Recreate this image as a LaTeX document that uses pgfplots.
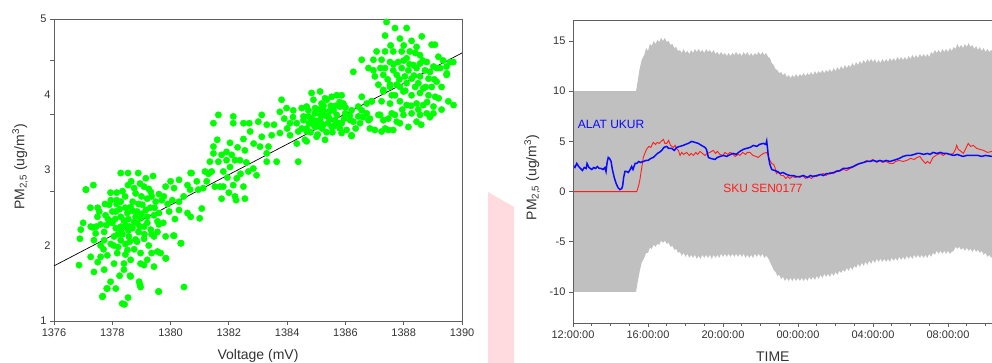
\documentclass[border=0pt]{standalone}
\usepackage{fontspec}
\setmainfont{Liberation Sans}
\usepackage{pgfplots}
\pgfplotsset{compat=1.18}
\definecolor{bandgray}{RGB}{192,192,192}
\definecolor{mygreen}{RGB}{0,255,0}
\definecolor{wmpink}{RGB}{255,218,222}
\definecolor{axgray}{RGB}{95,95,95}
\definecolor{ptblue}{RGB}{10,10,255}
\definecolor{ptred}{RGB}{255,30,30}
\pgfplotsset{
  common/.style={
    scale only axis,
    tick align=outside,
    xtick pos=left, ytick pos=left,
    axis line style={draw=axgray, line width=0.9pt},
    tick style={draw=axgray, line width=0.8pt},
    major tick length=4pt, minor tick length=3pt,
    tick label style={font=\fontsize{11}{13}\selectfont, text=black!80},
    label style={font=\fontsize{14}{16}\selectfont, text=black!80},
  }
}
\begin{document}
\begin{tikzpicture}[x=1pt,y=1pt]
\path[use as bounding box] (0,0) rectangle (992,363);
\clip (0,0) rectangle (992,363);
\fill[wmpink] (488,171) -- (514,156) -- (514,0) -- (488,0) -- cycle;

% ---------------- left panel ----------------
\begin{axis}[common,
  at={(54pt,42pt)}, anchor=south west, width=408pt, height=302pt,
  xmin=1376, xmax=1390, ymin=1, ymax=5,
  xtick={1376,1378,...,1390},
  xticklabels={1376,1378,1380,1382,1384,1386,1388,1390},
  ytick={1,2.723,3.730,4.445,5}, yticklabels={1,,,,5},
  extra y ticks={2,3,4}, extra y tick labels={2,3,4},
  extra y tick style={major tick length=0pt},
  xlabel={Voltage (mV)},
  ylabel={PM\textsubscript{2,5} (ug/m\textsuperscript{3})},
  xlabel style={at={(axis description cs:0.5,-0.116)}, anchor=center},
  ylabel style={at={(axis description cs:-0.083,0.51)}, anchor=center},
]
\addplot[only marks, mark=*, mark size=3.2pt, color=mygreen, mark options={draw=mygreen, fill=mygreen}] coordinates {
(1378.29,2.96) (1378.54,2.96) (1378.89,2.96) (1379.15,2.89) (1379.40,2.92)
(1377.35,2.80) (1377.09,2.74) (1377.94,2.70) (1378.44,2.65) (1378.54,2.80)
(1378.75,2.76) (1378.80,2.69) (1379.09,2.78) (1379.32,2.71) (1379.35,2.65)
(1379.83,2.78) (1380.12,2.76) (1380.29,2.87) (1380.58,2.80) (1380.69,2.96)
(1379.77,2.65) (1380.06,2.60) (1380.29,2.58)
(1377.89,2.54) (1378.29,2.58) (1378.12,2.45) (1378.63,2.51) (1379.03,2.54)
(1379.49,2.58) (1379.95,2.45) (1380.29,2.47) (1380.58,2.43) (1380.69,2.38)
(1377.49,2.38) (1377.77,2.40) (1377.94,2.32) (1378.29,2.38) (1378.52,2.43)
(1378.80,2.38) (1378.97,2.36) (1379.20,2.38) (1379.43,2.40) (1379.60,2.43)
(1377.26,2.25) (1376.92,2.21) (1377.43,2.16) (1377.72,2.18) (1378.12,2.23)
(1378.29,2.25) (1378.46,2.27) (1378.69,2.23) (1378.86,2.29) (1379.09,2.25)
(1379.32,2.21) (1379.55,2.18) (1379.83,2.12) (1380.12,2.13) (1380.35,2.03)
(1376.89,2.09) (1377.37,2.07) (1377.72,2.07) (1378.06,2.12) (1378.29,2.07)
(1378.57,2.12) (1378.80,2.08) (1379.09,2.09) (1379.43,2.12)
(1377.26,1.85) (1377.60,1.85) (1377.83,1.87) (1378.17,1.90) (1378.52,1.94)
(1378.97,1.90) (1379.20,1.81) (1379.55,1.92) (1379.66,1.90) (1379.83,1.83)
(1376.86,1.74) (1377.37,1.65) (1377.72,1.68) (1378.06,1.76) (1378.40,1.76)
(1378.63,1.81) (1378.97,1.76) (1379.09,1.74) (1379.43,1.72)
(1378.40,1.68) (1378.63,1.59) (1378.92,1.52) (1378.97,1.45) (1377.94,1.52)
(1377.83,1.43) (1378.12,1.43) (1377.66,1.32) (1378.54,1.31) (1378.34,1.23)
(1378.42,1.22) (1379.60,1.39) (1380.46,1.45)
(1378.00,2.30) (1378.40,2.33) (1378.70,2.46) (1378.90,2.18) (1379.20,2.30)
(1378.20,2.15) (1377.80,2.27) (1378.60,2.05) (1379.00,2.42) (1378.45,2.50)
(1377.60,2.28) (1378.75,2.31) (1379.30,2.50) (1379.60,2.28) (1378.15,2.60)
(1378.05,2.00) (1377.70,1.95) (1379.25,2.00) (1379.70,2.60) (1377.50,2.50)
(1377.33,2.24) (1377.10,2.74) (1377.67,1.33) (1377.81,1.43) (1378.61,1.60)
(1378.95,1.48) (1379.58,1.39) (1380.36,2.03) (1380.10,2.13) (1379.84,1.83)
(1381.00,2.36) (1378.30,2.20) (1378.55,2.20) (1378.85,2.45) (1378.10,2.35)
(1377.55,2.45) (1377.75,2.55) (1377.95,2.60) (1378.15,2.70) (1378.35,2.72)
(1378.65,2.85) (1378.95,2.82) (1379.20,2.62) (1379.45,2.50) (1379.55,2.32)
(1379.35,2.15) (1379.10,2.15) (1378.85,2.05) (1378.45,2.02) (1378.20,1.98)
(1377.95,2.02) (1377.60,2.00) (1377.45,2.25) (1378.00,2.45) (1378.25,2.48)
(1378.55,2.35) (1378.70,2.58) (1379.00,2.65) (1379.15,2.47) (1378.35,2.15)
(1378.60,2.25) (1378.95,2.25) (1377.85,2.35) (1378.15,2.55) (1378.90,2.55)
(1379.25,2.75) (1379.60,2.68) (1379.90,2.55) (1380.00,2.85) (1380.45,2.65)
(1380.15,2.35) (1377.25,2.50) (1377.00,2.30) (1378.45,1.88) (1378.75,1.95)
(1379.35,1.90) (1378.25,1.60) (1377.50,1.78) (1379.75,2.30)
% cluster B/C
(1383.81,3.93) (1383.75,3.77) (1383.98,3.82) (1384.21,3.79) (1384.50,3.82)
(1384.73,3.79) (1384.73,3.71) (1384.56,3.66) (1384.33,3.62) (1384.10,3.62)
(1381.64,3.73) (1381.47,3.62) (1382.15,3.71) (1382.15,3.62) (1382.50,3.62)
(1382.70,3.62) (1383.13,3.73) (1383.01,3.64) (1383.30,3.60) (1382.73,3.51)
(1382.50,3.41) (1383.13,3.44) (1383.47,3.46) (1383.75,3.49) (1384.10,3.46)
(1384.38,3.51) (1384.67,3.51) (1382.04,3.36) (1381.47,3.31) (1381.47,3.22)
(1381.92,3.24) (1382.10,3.20) (1381.92,3.13) (1382.21,3.13) (1382.38,3.13)
(1382.55,3.26) (1383.07,3.31) (1383.36,3.31) (1383.30,3.22) (1383.30,3.11)
(1383.64,3.11) (1384.38,3.11) (1384.33,3.35) (1384.61,3.40) (1381.35,3.11)
(1381.64,3.11) (1381.81,2.98) (1382.04,3.04) (1382.67,2.98) (1382.84,3.02)
(1382.95,2.93) (1382.27,2.89) (1380.72,2.96) (1381.18,2.98) (1381.41,2.98)
(1380.90,2.85) (1381.24,2.85) (1381.52,2.78) (1381.81,2.78) (1382.15,2.80)
(1382.50,2.78) (1380.95,2.74) (1381.12,2.76) (1381.75,2.62) (1382.21,2.65)
(1382.55,2.62) (1381.07,2.49) (1380.67,2.74) (1382.25,2.60) (1381.70,2.78)
(1381.60,3.40) (1381.75,3.20) (1382.30,3.30) (1382.85,3.35) (1383.55,3.60)
(1382.40,2.95) (1381.95,2.90) (1382.00,2.70) (1381.30,2.95) (1382.60,3.10)
% cluster D
(1384.84,4.02) (1385.13,4.04) (1384.90,3.93) (1385.18,3.88) (1385.36,3.93)
(1385.53,3.97) (1385.70,3.99) (1385.87,3.99) (1385.93,3.88) (1384.67,3.84)
(1384.96,3.82) (1385.24,3.79) (1385.59,3.79) (1385.81,3.84) (1385.99,3.75)
(1386.21,3.79) (1386.44,3.84) (1386.56,3.97) (1386.73,3.88) (1386.90,3.91)
(1384.56,3.71) (1384.84,3.68) (1385.13,3.66) (1385.41,3.71) (1385.64,3.66)
(1385.87,3.62) (1386.16,3.66) (1386.44,3.71) (1386.56,3.79) (1386.73,3.75)
(1384.67,3.55) (1384.96,3.57) (1385.24,3.60) (1385.53,3.57) (1385.81,3.55)
(1386.04,3.53) (1386.27,3.64) (1386.50,3.62) (1386.79,3.66) (1386.84,3.55)
(1384.67,3.38) (1385.01,3.44) (1385.30,3.40) (1385.87,3.49) (1386.21,3.46)
(1385.00,3.65) (1385.30,3.72) (1385.50,3.85) (1385.20,3.55) (1385.70,3.73)
(1385.10,3.80) (1384.90,3.60) (1385.40,3.62) (1385.80,3.90) (1386.00,3.83)
(1385.60,3.58) (1384.80,3.50) (1385.05,3.47) (1385.35,3.50) (1386.21,3.45)
(1386.27,4.30) (1386.56,4.46) (1386.79,4.35) (1386.96,4.32)
(1385.15,3.72) (1385.45,3.78) (1385.65,3.85) (1385.25,3.85) (1384.95,3.75)
(1385.75,3.62) (1385.95,3.68) (1386.15,3.72) (1385.45,3.68) (1385.10,3.58)
(1384.75,3.62) (1385.55,3.50) (1386.35,3.55) (1386.60,3.70) (1385.30,3.95)
(1384.50,3.55) (1384.20,3.70) (1384.00,3.55) (1383.90,3.68)
% cluster E
(1387.41,4.96) (1387.70,4.88) (1388.10,4.88) (1387.36,4.78) (1387.87,4.74)
(1388.27,4.71) (1388.62,4.77) (1388.96,4.66) (1388.44,4.63) (1389.07,4.66)
(1387.07,4.57) (1387.36,4.57) (1387.64,4.57) (1387.93,4.57) (1388.21,4.57)
(1388.56,4.52) (1388.79,4.43) (1389.19,4.50) (1389.59,4.43) (1389.70,4.43)
(1386.96,4.46) (1387.24,4.46) (1387.53,4.43) (1387.81,4.43) (1388.10,4.48)
(1388.33,4.39) (1388.56,4.41) (1389.47,4.37)
(1387.36,4.35) (1387.64,4.32) (1387.93,4.35) (1388.16,4.32) (1388.44,4.35)
(1388.73,4.32) (1389.02,4.37) (1389.25,4.35) (1389.48,4.28) (1389.13,4.35)
(1387.01,4.24) (1387.30,4.26) (1387.76,4.26) (1388.04,4.24) (1388.27,4.21)
(1388.56,4.24) (1388.85,4.21) (1389.47,4.26)
(1387.13,4.13) (1387.53,4.13) (1387.87,4.10) (1388.10,4.15) (1388.39,4.10)
(1388.67,4.08) (1388.96,4.10) (1389.13,4.17)
(1387.30,4.04) (1387.70,3.99) (1387.99,4.04) (1388.27,3.99) (1388.56,4.02)
(1388.85,3.99) (1389.08,3.97)
(1387.24,3.91) (1387.53,3.88) (1387.87,3.91) (1388.10,3.86) (1388.44,3.88)
(1388.67,3.86) (1389.02,3.84) (1389.53,3.91) (1389.71,3.86)
(1387.19,3.73) (1387.47,3.68) (1387.70,3.73) (1387.99,3.73) (1388.27,3.75)
(1388.56,3.73) (1388.79,3.75) (1389.02,3.75)
(1387.36,3.55) (1387.64,3.53) (1387.87,3.62) (1388.16,3.57) (1388.44,3.64)
(1387.01,3.53) (1386.84,3.68) (1386.90,3.91) (1387.24,3.51) (1387.47,3.53)
(1387.30,4.06) (1387.53,4.10) (1387.76,4.13) (1387.59,3.99) (1387.13,3.73)
(1387.30,3.66) (1387.59,3.75) (1387.76,3.64)
(1387.45,4.20) (1387.65,4.40) (1387.85,4.20) (1388.00,4.45) (1388.20,4.40)
(1388.35,4.25) (1388.50,4.15) (1388.65,4.45) (1388.75,4.10) (1388.90,4.30)
(1389.05,4.20) (1389.30,4.10) (1388.05,4.05) (1387.95,3.80) (1388.25,3.85)
(1388.50,3.80) (1388.80,3.90) (1389.20,3.95) (1389.35,4.45) (1388.40,4.55)
(1388.00,4.65) (1387.55,4.65) (1387.20,4.35) (1388.60,3.60) (1388.90,3.70)
(1389.30,3.80)
};
\addplot[black, line width=0.7pt] coordinates {(1376,1.73) (1390,4.55)};
\end{axis}

% ---------------- right panel ----------------
\begin{axis}[common,
  at={(573pt,40pt)}, anchor=south west, width=450pt, height=303pt,
  xmin=0, xmax=24, ymin=-13.09, ymax=17.09,
  axis on top,
  xtick={0,4,8,12,16,20},
  xticklabels={12:00:00,16:00:00,20:00:00,00:00:00,04:00:00,08:00:00},
  minor xtick={1,2,3,5,6,7,9,10,11,13,14,15,17,18,19,21,22,23},
  ytick={-10,-5,0,5,10,15}, yticklabels={-10,-5,0,5,10,15},
  xlabel={TIME},
  ylabel={PM\textsubscript{2,5} (ug/m\textsuperscript{3})},
  xlabel style={at={(axis description cs:0.444,-0.112)}, anchor=center},
  ylabel style={at={(axis description cs:-0.091,0.48)}, anchor=center},
]
\addplot[draw=none, fill=bandgray] coordinates {
(0,10) (3.36,10) (3.45,11.0) (3.55,12.2) (3.66,13.1) (3.8,13.6) (3.9,14.3) (4.0,14.0)
(4.1,14.7) (4.2,14.5) (4.3,15.0) (4.4,14.7) (4.5,15.1) (4.6,14.9) (4.7,15.3) (4.8,15.0)
(4.9,15.3) (5.0,14.9) (5.1,15.0) (5.2,14.6) (5.3,14.7) (5.4,14.3) (5.5,14.4) (5.6,14.0)
(5.7,14.1) (5.8,13.8) (5.9,14.2) (6.0,13.8) (6.1,14.0) (6.2,13.7) (6.3,14.1) (6.4,13.8)
(6.5,14.2) (6.6,13.9) (6.7,14.2) (6.8,13.9) (6.9,14.1) (7.0,13.8) (7.1,14.2) (7.2,13.9)
(7.3,14.1) (7.4,13.8) (7.5,14.1) (7.6,13.7) (7.7,13.9) (7.8,13.6) (7.9,13.9) (8.0,13.6)
(8.1,13.8) (8.2,13.5) (8.3,13.8) (8.4,13.5) (8.5,13.8) (8.6,13.6) (8.7,13.9) (8.8,13.6)
(8.9,13.8) (9.0,13.5) (9.1,13.9) (9.2,13.6) (9.3,13.9) (9.4,13.5) (9.5,13.8) (9.6,13.5)
(9.7,13.8) (9.8,13.6) (9.9,13.9) (10.0,13.6) (10.1,13.9) (10.2,13.6) (10.3,13.8) (10.4,13.4)
(10.5,13.3) (10.6,12.8) (10.7,12.6) (10.8,12.2) (10.9,12.1) (11.0,11.8) (11.1,11.9) (11.2,11.6)
(11.3,11.8) (11.4,11.4) (11.5,11.6) (11.6,11.3) (11.7,11.6) (11.8,11.4) (11.9,11.7) (12.0,11.4)
(12.1,11.7) (12.2,11.5) (12.3,11.8) (12.4,11.5) (12.5,11.8) (12.6,11.6) (12.7,11.9) (12.8,11.6)
(12.9,12.0) (13.0,11.7) (13.1,12.0) (13.2,11.8) (13.3,12.1) (13.4,11.8) (13.5,12.1) (13.6,11.9)
(13.7,12.2) (13.8,11.9) (13.9,12.3) (14.0,12.0) (14.1,12.4) (14.2,12.1) (14.3,12.5) (14.4,12.2)
(14.5,12.6) (14.6,12.3) (14.7,12.6) (14.8,12.4) (14.9,12.8) (15.0,12.5) (15.1,12.9) (15.2,12.6)
(15.3,13.0) (15.4,12.7) (15.5,13.1) (15.6,12.8) (15.7,13.2) (15.8,12.9) (15.9,13.2) (16.0,12.9)
(16.1,13.2) (16.2,12.8) (16.3,13.1) (16.4,12.8) (16.5,13.2) (16.6,12.9) (16.7,13.2) (16.8,12.9)
(16.9,13.3) (17.0,13.0) (17.1,13.3) (17.2,13.0) (17.3,13.4) (17.4,13.1) (17.5,13.4) (17.6,13.1)
(17.7,13.4) (17.8,13.1) (17.9,13.5) (18.0,13.2) (18.1,13.6) (18.2,13.3) (18.3,13.6) (18.4,13.3)
(18.5,13.7) (18.6,13.4) (18.7,13.7) (18.8,13.4) (18.9,13.7) (19.0,13.4) (19.1,13.9) (19.2,13.7)
(19.3,14.1) (19.4,13.8) (19.5,14.1) (19.6,13.8) (19.7,14.2) (19.8,13.9) (19.9,14.2) (20.0,13.9)
(20.1,14.3) (20.2,14.0) (20.3,14.4) (20.4,14.2) (20.5,14.7) (20.6,14.3) (20.7,14.6) (20.8,14.3)
(20.9,14.7) (21.0,14.4) (21.1,14.8) (21.2,14.4) (21.3,14.6) (21.4,14.2) (21.5,14.5) (21.6,14.1)
(21.7,14.4) (21.8,14.0) (21.9,14.3) (22.0,13.9) (22.1,14.2) (22.2,13.9) (22.3,14.1) (22.4,13.9)
(24,14.0)
(24,-6.5) (22.4,-6.4) (22.3,-6.6) (22.2,-6.3) (22.1,-6.5) (22.0,-6.1) (21.9,-6.3) (21.8,-5.9)
(21.7,-6.1) (21.6,-5.8) (21.5,-6.0) (21.4,-5.7) (21.3,-6.0) (21.2,-5.7) (21.1,-5.9) (21.0,-5.6)
(20.9,-5.9) (20.8,-5.6) (20.7,-5.8) (20.6,-5.5) (20.5,-5.7) (20.4,-5.5) (20.3,-5.9) (20.2,-6.0)
(20.1,-6.2) (20.0,-5.9) (19.9,-6.2) (19.8,-5.9) (19.7,-6.2) (19.6,-5.9) (19.5,-6.2) (19.4,-5.9)
(19.3,-6.3) (19.2,-6.1) (19.1,-6.5) (19.0,-6.2) (18.9,-6.6) (18.8,-6.3) (18.7,-6.6) (18.6,-6.3)
(18.5,-6.6) (18.4,-6.3) (18.3,-6.6) (18.2,-6.3) (18.1,-6.7) (18.0,-6.4) (17.9,-6.7) (17.8,-6.4)
(17.7,-6.8) (17.6,-6.5) (17.5,-6.8) (17.4,-6.5) (17.3,-6.9) (17.2,-6.6) (17.1,-6.9) (17.0,-6.6)
(16.9,-7.0) (16.8,-6.7) (16.7,-7.0) (16.6,-6.7) (16.5,-7.0) (16.4,-6.7) (16.3,-7.0) (16.2,-6.7)
(16.1,-7.1) (16.0,-6.8) (15.9,-7.2) (15.8,-6.9) (15.7,-7.3) (15.6,-7.0) (15.5,-7.4) (15.4,-7.1)
(15.3,-7.5) (15.2,-7.2) (15.1,-7.6) (15.0,-7.4) (14.9,-7.8) (14.8,-7.5) (14.7,-7.9) (14.6,-7.6)
(14.5,-8.0) (14.4,-7.8) (14.3,-8.1) (14.2,-7.9) (14.1,-8.3) (14.0,-8.0) (13.9,-8.4) (13.8,-8.1)
(13.7,-8.5) (13.6,-8.2) (13.5,-8.5) (13.4,-8.2) (13.3,-8.6) (13.2,-8.3) (13.1,-8.7) (13.0,-8.4)
(12.9,-8.8) (12.8,-8.5) (12.7,-8.8) (12.6,-8.5) (12.5,-8.9) (12.4,-8.6) (12.3,-8.9) (12.2,-8.6)
(12.1,-8.9) (12.0,-8.6) (11.9,-8.9) (11.8,-8.6) (11.7,-8.9) (11.6,-8.6) (11.5,-8.9) (11.4,-8.6)
(11.3,-8.9) (11.2,-8.5) (11.1,-8.7) (11.0,-8.3) (10.9,-8.4) (10.8,-8.0) (10.7,-7.8) (10.6,-7.4)
(10.5,-7.0) (10.4,-6.6) (10.3,-6.4) (10.2,-6.6) (10.1,-6.2) (10.0,-6.5) (9.9,-6.2) (9.8,-6.5)
(9.7,-6.2) (9.6,-6.6) (9.5,-6.3) (9.4,-6.6) (9.3,-6.3) (9.2,-6.6) (9.1,-6.2) (9.0,-6.5)
(8.9,-6.2) (8.8,-6.5) (8.7,-6.2) (8.6,-6.5) (8.5,-6.2) (8.4,-6.5) (8.3,-6.2) (8.2,-6.5)
(8.1,-6.2) (8.0,-6.5) (7.9,-6.2) (7.8,-6.6) (7.7,-6.3) (7.6,-6.6) (7.5,-6.3) (7.4,-6.7)
(7.3,-6.3) (7.2,-6.6) (7.1,-6.3) (7.0,-6.6) (6.9,-6.3) (6.8,-6.7) (6.7,-6.4) (6.6,-6.7)
(6.5,-6.3) (6.4,-6.6) (6.3,-6.3) (6.2,-6.6) (6.1,-6.2) (6.0,-6.5) (5.9,-6.1) (5.8,-6.4)
(5.7,-6.0) (5.6,-6.1) (5.5,-5.7) (5.4,-5.8) (5.3,-5.4) (5.2,-5.5) (5.1,-5.1) (5.0,-5.2)
(4.9,-4.9) (4.8,-5.1) (4.7,-4.9) (4.6,-5.3) (4.5,-5.2) (4.4,-5.5) (4.3,-5.3) (4.2,-5.7)
(4.1,-5.6) (4.0,-6.1) (3.9,-6.1) (3.8,-6.6) (3.66,-7.1) (3.55,-8.0) (3.45,-9.0) (3.36,-10)
(0,-10)
} -- cycle;
\addplot[ptred, line width=0.9pt] coordinates {
(0,0) (3.4,0) (3.5,0.6) (3.57,1.2) (3.65,2.2) (3.75,3.4) (3.85,3.9) (3.95,4.3) (4.05,4.5)
(4.15,4.4) (4.28,4.9) (4.4,4.7) (4.5,4.9) (4.6,4.8) (4.7,5.0) (4.82,5.2) (4.9,4.8) (5.0,4.8)
(5.1,5.1) (5.2,4.6) (5.35,4.4) (5.45,4.6) (5.55,4.2) (5.62,4.1) (5.71,3.6) (5.8,3.9) (5.9,3.7)
(6.06,3.9) (6.2,3.6) (6.3,3.8) (6.42,3.6) (6.55,3.9) (6.65,3.7) (6.77,4.0) (6.9,3.8) (7.04,3.6)
(7.15,3.8) (7.3,3.9) (7.48,4.1) (7.6,3.8) (7.7,4.0) (7.84,3.7) (8.0,3.6) (8.1,3.9) (8.25,3.7)
(8.37,3.9) (8.5,3.8) (8.65,3.5) (8.8,3.7) (8.9,3.6) (9.05,3.9) (9.2,3.7) (9.3,3.9) (9.44,3.9)
(9.6,3.6) (9.75,3.5) (9.88,3.4) (10.0,3.6) (10.15,3.8) (10.33,3.9) (10.42,3.5) (10.5,3.1)
(10.6,2.8) (10.7,2.7) (10.77,2.4) (10.85,1.8) (10.95,2.0) (11.1,1.6) (11.22,1.6) (11.35,1.3)
(11.45,1.5) (11.57,1.3) (11.7,1.5) (11.85,1.4) (12.0,1.5) (12.1,1.4) (12.25,1.6) (12.4,1.3)
(12.55,1.5) (12.72,1.3) (12.85,1.6) (13.0,1.5) (13.2,1.7) (13.35,1.8) (13.5,1.6) (13.7,1.9)
(13.9,1.8) (14.06,2.1) (14.2,2.0) (14.4,2.2) (14.6,2.1) (14.77,2.3) (14.9,2.4) (15.1,2.6)
(15.3,2.8) (15.5,2.9) (15.66,3.1) (15.8,3.0) (16.0,3.2) (16.2,2.9) (16.37,3.1) (16.5,2.9)
(16.7,3.0) (16.9,2.8) (17.08,2.8) (17.2,3.0) (17.4,3.1) (17.6,3.0) (17.8,3.1) (18.0,3.3)
(18.2,3.2) (18.35,3.4) (18.5,3.5) (18.65,3.1) (18.8,2.8) (18.9,3.0) (19.04,2.8) (19.2,3.4)
(19.35,3.6) (19.57,3.8) (19.75,3.6) (19.9,3.8) (20.1,3.7) (20.28,3.8) (20.4,4.2) (20.46,4.6)
(20.55,4.2) (20.7,4.0) (20.82,3.8) (20.95,4.3) (21.08,4.8) (21.2,4.5) (21.35,4.6) (21.53,4.3)
(21.7,4.2) (21.9,4.1) (22.1,3.9) (22.35,4.0) (23,3.9)
};
\addplot[ptblue, line width=1.5pt] coordinates {
(0,2.6) (0.1,2.4) (0.2,2.8) (0.3,2.5) (0.4,2.3) (0.5,2.1) (0.6,2.4) (0.7,2.3) (0.75,2.8)
(0.85,2.4) (1.0,2.2) (1.1,2.4) (1.2,2.3) (1.3,2.5) (1.4,2.3) (1.5,2.3) (1.6,2.2) (1.7,2.4)
(1.76,2.0) (1.82,2.9) (1.88,3.4) (1.95,3.3) (2.03,3.0) (2.1,2.2) (2.2,1.4) (2.3,0.8) (2.4,0.4)
(2.5,0.2) (2.6,0.3) (2.65,0.6) (2.7,1.4) (2.77,2.0) (2.85,2.0) (2.95,1.9) (3.05,2.2) (3.13,2.5)
(3.2,2.2) (3.31,2.8) (3.4,2.8) (3.5,3.0) (3.6,2.9) (3.75,3.0) (3.9,3.1) (4.0,3.1) (4.15,3.3)
(4.28,3.4) (4.4,3.6) (4.5,3.8) (4.6,3.9) (4.73,4.1) (4.85,4.4) (5.0,4.5) (5.1,4.3) (5.26,4.3)
(5.4,4.1) (5.53,4.4) (5.7,4.5) (5.88,4.6) (6.0,4.7) (6.15,4.8) (6.33,5.0) (6.5,4.9) (6.68,4.8)
(6.85,4.6) (7.04,4.4) (7.12,4.2) (7.22,3.4) (7.35,3.3) (7.57,3.2) (7.7,3.4) (7.85,3.5) (8.02,3.6)
(8.2,3.5) (8.4,3.7) (8.55,3.8) (8.7,3.7) (8.9,4.0) (9.08,4.2) (9.25,4.3) (9.45,4.4) (9.62,4.6)
(9.8,4.5) (9.95,4.7) (10.15,4.8) (10.28,4.7) (10.33,5.05) (10.38,4.2) (10.42,3.5) (10.5,2.7)
(10.6,2.2) (10.75,2.1) (10.9,2.0) (11.04,1.8) (11.2,1.9) (11.4,1.7) (11.57,1.6) (11.75,1.6)
(11.9,1.5) (12.1,1.5) (12.3,1.6) (12.5,1.4) (12.65,1.6) (12.82,1.5) (13.0,1.6) (13.2,1.7)
(13.35,1.6) (13.53,1.8) (13.7,1.8) (13.9,1.9) (14.05,2.0) (14.24,2.1) (14.4,2.3) (14.6,2.3)
(14.8,2.4) (14.95,2.5) (15.15,2.7) (15.3,2.8) (15.5,2.9) (15.66,3.0) (15.85,3.0) (16.0,3.1)
(16.2,3.0) (16.37,3.1) (16.55,3.0) (16.7,3.1) (16.9,3.0) (17.08,3.1) (17.25,3.2) (17.4,3.3)
(17.6,3.5) (17.8,3.6) (18.0,3.6) (18.2,3.7) (18.35,3.8) (18.5,3.8) (18.7,3.7) (18.9,3.8)
(19.05,3.7) (19.2,3.9) (19.4,3.8) (19.6,3.9) (19.75,3.8) (19.93,3.8) (20.1,3.7) (20.3,3.6)
(20.5,3.7) (20.64,3.6) (20.8,3.5) (21.0,3.6) (21.2,3.6) (21.35,3.6) (21.6,3.6) (21.8,3.5)
(22.0,3.6) (22.35,3.5) (23,3.5)
};
\node[font=\fontsize{12}{14}\selectfont, text=ptblue] at (axis cs:2.03,6.73) {ALAT UKUR};
\node[font=\fontsize{12}{14}\selectfont, text=ptred] at (axis cs:10.13,0.36) {SKU SEN0177};
\end{axis}
\end{tikzpicture}
\end{document}
